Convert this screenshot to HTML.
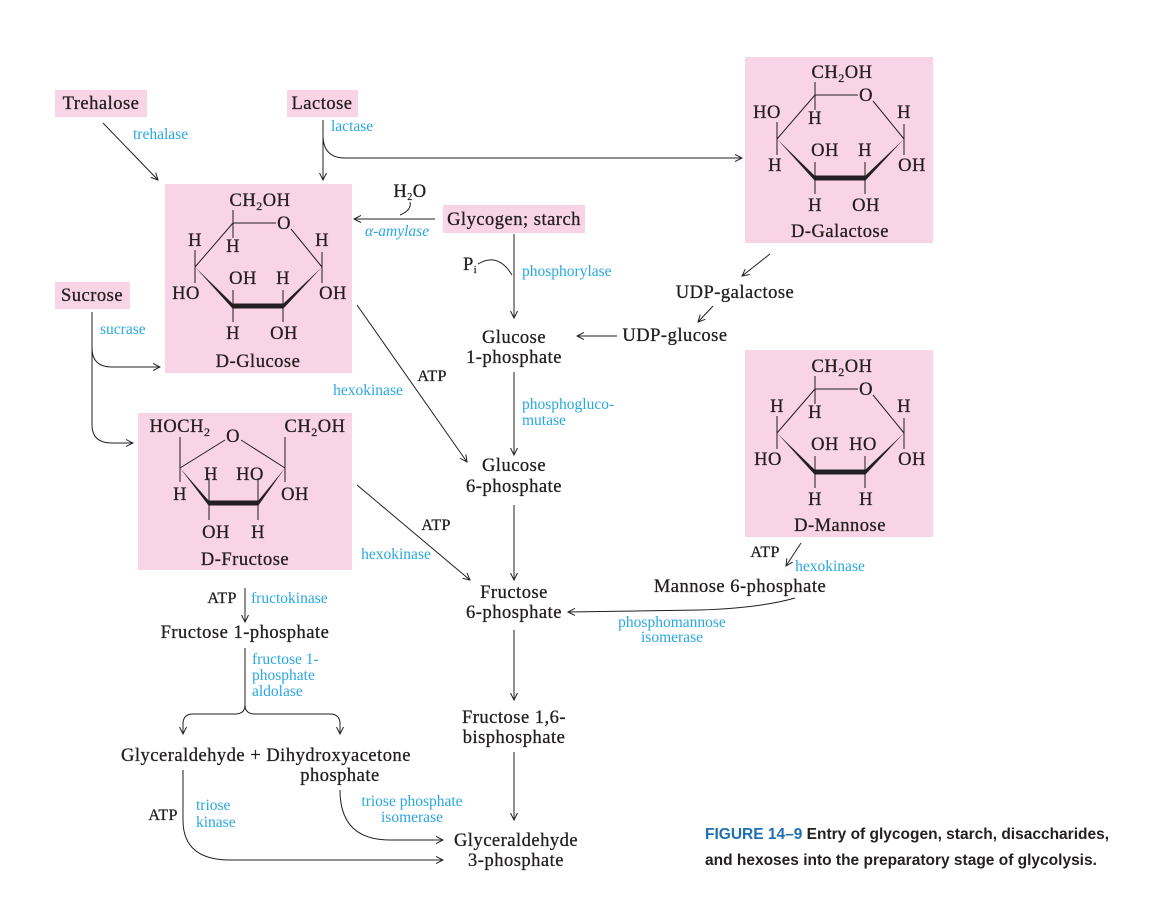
<!DOCTYPE html>
<html><head><meta charset="utf-8"><style>
html,body{margin:0;padding:0;background:#fff;}
svg{display:block;}
text{font-family:"Liberation Serif",serif;font-size:18.5px;letter-spacing:0.5px;fill:#231f20;stroke:#231f20;stroke-width:0.3;}
.b{fill:#2aa7df;stroke:none;font-size:15.5px;letter-spacing:0;}
.a{font-size:16px;letter-spacing:0.3px;}
.c{font-family:"Liberation Sans",sans-serif;font-weight:bold;font-size:15.5px;letter-spacing:0;fill:#231f20;stroke:none;}
.thin{stroke:#231f20;stroke-width:1;fill:none;}
.ln{stroke:#231f20;stroke-width:1;fill:none;marker-end:url(#ah);}
.box{fill:#f9d3e6;}
</style></head><body>
<svg width="1161" height="911" viewBox="0 0 1161 911">
<defs>
<marker id="ah" markerWidth="8" markerHeight="8" refX="7" refY="4" orient="auto" markerUnits="userSpaceOnUse"><path d="M0,0.5 L7,4 L0,7.5" fill="none" stroke="#231f20" stroke-width="1"/></marker>
<g id="pyr">
<line class="thin" x1="233" y1="210" x2="233" y2="238"/>
<line class="thin" x1="233" y1="223" x2="276" y2="223"/>
<line class="thin" x1="291" y1="229" x2="322" y2="267"/>
<line class="thin" x1="233" y1="223" x2="195" y2="267"/>
<line class="thin" x1="195" y1="250" x2="195" y2="283"/>
<line class="thin" x1="322" y1="252" x2="322" y2="283"/>
<line class="thin" x1="233" y1="290" x2="233" y2="322"/>
<line class="thin" x1="283" y1="290" x2="283" y2="322"/>
<polygon points="195,267 233,304 233,309" fill="#231f20"/>
<rect x="233" y="303.5" width="50" height="5" fill="#231f20"/>
<polygon points="283,304 283,309 322,267" fill="#231f20"/>
<text x="260" y="206" text-anchor="middle">CH<tspan font-size="12" dy="4">2</tspan><tspan dy="-4">OH</tspan></text>
<text x="284" y="229" text-anchor="middle">O</text>
</g>
</defs>

<rect class="box" x="55" y="90" width="92" height="27"/>
<text x="101" y="109" text-anchor="middle">Trehalose</text>
<rect class="box" x="287" y="90" width="71" height="27"/>
<text x="322" y="109" text-anchor="middle">Lactose</text>
<rect class="box" x="55" y="282" width="75" height="27"/>
<text x="92" y="301" text-anchor="middle">Sucrose</text>
<text class="b" x="133" y="139">trehalase</text>
<text class="b" x="331" y="131">lactase</text>
<text class="b" x="100" y="334">sucrase</text>
<path class="ln" d="M103,123 L158,180"/>
<path class="ln" d="M323,120 L323,180"/>
<path class="ln" d="M323,135 Q323,158 345,158 L742,158"/>
<path class="ln" d="M92,312 L92,348 Q92,367 112,367 L160,367"/>
<path class="ln" d="M92,340 L92,425 Q92,443 112,443 L133,443"/>

<g>
<rect class="box" x="165" y="184" width="187" height="189"/>
<use href="#pyr"/>
<text x="195" y="246" text-anchor="middle">H</text>
<text x="233" y="252" text-anchor="middle">H</text>
<text x="322" y="246" text-anchor="middle">H</text>
<text x="243" y="284" text-anchor="middle">OH</text>
<text x="283" y="284" text-anchor="middle">H</text>
<text x="186" y="299" text-anchor="middle">HO</text>
<text x="333" y="299" text-anchor="middle">OH</text>
<text x="233" y="339" text-anchor="middle">H</text>
<text x="284" y="339" text-anchor="middle">OH</text>
<text x="258" y="367" text-anchor="middle">D-Glucose</text>
</g>

<g>
<rect class="box" x="745" y="57" width="188" height="186"/>
<use href="#pyr" transform="translate(582,-128)"/>
<text x="767" y="118" text-anchor="middle">HO</text>
<text x="815" y="124" text-anchor="middle">H</text>
<text x="904" y="118" text-anchor="middle">H</text>
<text x="825" y="156" text-anchor="middle">OH</text>
<text x="865" y="156" text-anchor="middle">H</text>
<text x="775" y="171" text-anchor="middle">H</text>
<text x="912" y="171" text-anchor="middle">OH</text>
<text x="815" y="211" text-anchor="middle">H</text>
<text x="866" y="211" text-anchor="middle">OH</text>
<text x="840" y="237" text-anchor="middle">D-Galactose</text>
</g>

<g>
<rect class="box" x="745" y="350" width="188" height="187"/>
<use href="#pyr" transform="translate(582,166)"/>
<text x="777" y="412" text-anchor="middle">H</text>
<text x="815" y="418" text-anchor="middle">H</text>
<text x="904" y="412" text-anchor="middle">H</text>
<text x="825" y="450" text-anchor="middle">OH</text>
<text x="863" y="450" text-anchor="middle">HO</text>
<text x="768" y="465" text-anchor="middle">HO</text>
<text x="912" y="465" text-anchor="middle">OH</text>
<text x="815" y="505" text-anchor="middle">H</text>
<text x="866" y="505" text-anchor="middle">H</text>
<text x="840" y="531" text-anchor="middle">D-Mannose</text>
</g>

<g>
<rect class="box" x="138" y="413" width="214" height="157"/>
<line class="thin" x1="180" y1="437" x2="180" y2="482"/>
<line class="thin" x1="180" y1="468" x2="225" y2="440"/>
<line class="thin" x1="241" y1="440" x2="285" y2="468"/>
<line class="thin" x1="285" y1="437" x2="285" y2="482"/>
<line class="thin" x1="209" y1="478" x2="209" y2="520"/>
<line class="thin" x1="258" y1="478" x2="258" y2="520"/>
<polygon points="180,468 209,501 209,506" fill="#231f20"/>
<rect x="209" y="500.5" width="49" height="5" fill="#231f20"/>
<polygon points="258,501 258,506 285,468" fill="#231f20"/>
<text x="180" y="432" text-anchor="middle">HOCH<tspan font-size="12" dy="4">2</tspan></text>
<text x="233" y="442" text-anchor="middle">O</text>
<text x="315" y="432" text-anchor="middle">CH<tspan font-size="12" dy="4">2</tspan><tspan dy="-4">OH</tspan></text>
<text x="211" y="480" text-anchor="middle">H</text>
<text x="250" y="480" text-anchor="middle">HO</text>
<text x="180" y="500" text-anchor="middle">H</text>
<text x="295" y="500" text-anchor="middle">OH</text>
<text x="216" y="538" text-anchor="middle">OH</text>
<text x="258" y="538" text-anchor="middle">H</text>
<text x="245" y="565" text-anchor="middle">D-Fructose</text>
</g>

<text x="410" y="197" text-anchor="middle" font-size="15">H<tspan font-size="10" dy="3">2</tspan><tspan dy="-3">O</tspan></text>
<path class="thin" d="M410,202 Q412,210 400,215"/>
<text class="b" x="365" y="236" font-style="italic">α-amylase</text>
<path class="ln" d="M435,219 L354,219"/>
<rect class="box" x="443" y="205" width="142" height="28"/>
<text x="514" y="225" text-anchor="middle">Glycogen; starch</text>
<text x="463" y="270" font-size="15">P<tspan font-size="10" dy="3">i</tspan></text>
<path class="thin" d="M478,264 Q498,252 512,275"/>
<text class="b" x="522" y="276">phosphorylase</text>
<path class="ln" d="M514,234 L514,318"/>
<text x="514" y="343" text-anchor="middle">Glucose</text>
<text x="514" y="363" text-anchor="middle">1-phosphate</text>
<path class="ln" d="M617,336 L577,336"/>
<text x="675" y="341" text-anchor="middle">UDP-glucose</text>
<text x="735" y="298" text-anchor="middle">UDP-galactose</text>
<path class="ln" d="M770,254 L742,276"/>
<path class="ln" d="M713,306 L698,322"/>
<text class="b" x="522" y="409">phosphogluco-</text>
<text class="b" x="522" y="425">mutase</text>
<path class="ln" d="M514,372 L514,455"/>
<text x="514" y="471" text-anchor="middle">Glucose</text>
<text x="514" y="492" text-anchor="middle">6-phosphate</text>

<path class="ln" d="M357,305 L467,462"/>
<text class="a" x="432" y="381" text-anchor="middle">ATP</text>
<text class="b" x="368" y="395" text-anchor="middle">hexokinase</text>
<path class="ln" d="M357,485 L470,580"/>
<text class="a" x="436" y="530" text-anchor="middle">ATP</text>
<text class="b" x="396" y="559" text-anchor="middle">hexokinase</text>

<path class="ln" d="M514,505 L514,580"/>
<text x="514" y="598" text-anchor="middle">Fructose</text>
<text x="514" y="618" text-anchor="middle">6-phosphate</text>
<text x="740" y="592" text-anchor="middle">Mannose 6-phosphate</text>
<text class="a" x="765" y="557" text-anchor="middle">ATP</text>
<path class="ln" d="M801,543 L786,566"/>
<text class="b" x="830" y="571" text-anchor="middle">hexokinase</text>
<path class="ln" d="M795,598 Q760,608 700,610 L568,612"/>
<text class="b" x="672" y="627" text-anchor="middle">phosphomannose</text>
<text class="b" x="672" y="642" text-anchor="middle">isomerase</text>

<text class="a" x="222" y="603" text-anchor="middle">ATP</text>
<text class="b" x="251" y="603">fructokinase</text>
<path class="ln" d="M245,588 L245,622"/>
<text x="245" y="638" text-anchor="middle">Fructose 1-phosphate</text>
<path class="thin" d="M245,648 L245,705 Q245,714 235,714 L193,714 Q183,714 183,724"/>
<path class="ln" d="M183,722 L183,734"/>
<path class="thin" d="M245,705 Q245,714 255,714 L330,714 Q340,714 340,724"/>
<path class="ln" d="M340,722 L340,734"/>
<text class="b" x="252" y="664">fructose 1-</text>
<text class="b" x="252" y="680">phosphate</text>
<text class="b" x="252" y="696">aldolase</text>
<text x="266" y="761" text-anchor="middle">Glyceraldehyde + Dihydroxyacetone</text>
<text x="340" y="781" text-anchor="middle">phosphate</text>

<path class="ln" d="M514,630 L514,700"/>
<text x="514" y="723" text-anchor="middle">Fructose 1,6-</text>
<text x="514" y="743" text-anchor="middle">bisphosphate</text>
<path class="ln" d="M514,752 L514,820"/>
<text x="516" y="846" text-anchor="middle">Glyceraldehyde</text>
<text x="516" y="866" text-anchor="middle">3-phosphate</text>

<text class="a" x="163" y="820" text-anchor="middle">ATP</text>
<text class="b" x="196" y="810">triose</text>
<text class="b" x="196" y="827">kinase</text>
<path class="ln" d="M183,770 L183,820 Q183,860 230,860 L443,860"/>
<text class="b" x="412" y="806" text-anchor="middle">triose phosphate</text>
<text class="b" x="412" y="822" text-anchor="middle">isomerase</text>
<path class="ln" d="M340,790 Q340,840 390,840 L443,840"/>

<text class="c" x="705" y="839"><tspan fill="#1f6fb2">FIGURE 14–9</tspan>  Entry of glycogen, starch, disaccharides,</text>
<text class="c" x="705" y="865">and hexoses into the preparatory stage of glycolysis.</text>
</svg>
</body></html>
